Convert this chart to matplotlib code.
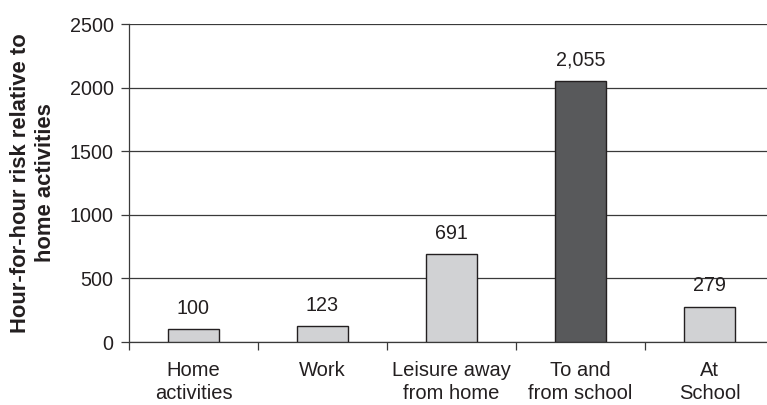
"""Bar chart of hour-for-hour risk by activity, relative to home activities."""

import matplotlib

matplotlib.use("Agg")
import matplotlib.pyplot as plt
import numpy as np

CATEGORIES = ["Home\nactivities", "Work", "Leisure away\nfrom home", "To and\nfrom school", "At\nSchool"]
RISK = [100, 123, 691, 2055, 279]
HIGHLIGHT = [False, False, False, True, False]
Y_TICKS = [0, 500, 1000, 1500, 2000, 2500]

LIGHT = "#d1d2d4"
DARK = "#58595b"
INK = "#231f20"
LINE = "#3a3a3a"

plt.rcParams["font.family"] = ["Liberation Sans", "DejaVu Sans"]

W, H, DPI = 767, 405, 100
fig = plt.figure(figsize=(W / DPI, H / DPI), dpi=DPI)

# axes box in pixels: left spine at x=129, zero line at y=342, top grid at y=24
left, right, top, bottom = 129, 774, 24, 342
ax = fig.add_axes([left / W, 1 - bottom / H, (right - left) / W, (bottom - top) / H])

x = np.arange(len(CATEGORIES))
colors = [DARK if h else LIGHT for h in HIGHLIGHT]
bars = ax.bar(x, RISK, width=0.40, color=colors, edgecolor=INK, linewidth=1.0, zorder=3)

for rect, value in zip(bars, RISK):
    ax.annotate(
        f"{value:,}",
        xy=(rect.get_x() + rect.get_width() / 2, value),
        xytext=(0, 8),
        textcoords="offset points",
        ha="center",
        va="bottom",
        fontsize=14.2,
        color=INK,
    )

ax.set_xlim(-0.5, len(CATEGORIES) - 0.5)
ax.set_ylim(0, 2500)
ax.set_yticks(Y_TICKS)
ax.set_yticklabels([str(t) for t in Y_TICKS], fontsize=14.2, color=INK)
ax.yaxis.grid(True, color=LINE, linewidth=0.9, zorder=0)
ax.set_axisbelow(True)

ax.set_xticks(x)
ax.set_xticklabels(CATEGORIES, fontsize=14.5, color=INK, linespacing=1.25)
ax.set_xticks(np.arange(-0.5, len(CATEGORIES) + 0.5, 1.0), minor=True)
ax.tick_params(axis="x", which="major", length=0, pad=14)
ax.tick_params(axis="x", which="minor", length=6, width=0.9, color=LINE, direction="out")
ax.tick_params(axis="y", length=6, width=0.9, color=LINE, pad=5)

for side in ("top", "right"):
    ax.spines[side].set_visible(False)
for side in ("left", "bottom"):
    ax.spines[side].set_color(LINE)
    ax.spines[side].set_linewidth(0.9)

fig.text(
    33 / W,
    1 - 183 / H,
    "Hour-for-hour risk relative to\nhome activities",
    rotation=90,
    ha="center",
    va="center",
    multialignment="center",
    fontsize=15.8,
    fontweight="bold",
    color=INK,
    linespacing=1.25,
)

fig.savefig("out.png", dpi=DPI)
plt.close(fig)
